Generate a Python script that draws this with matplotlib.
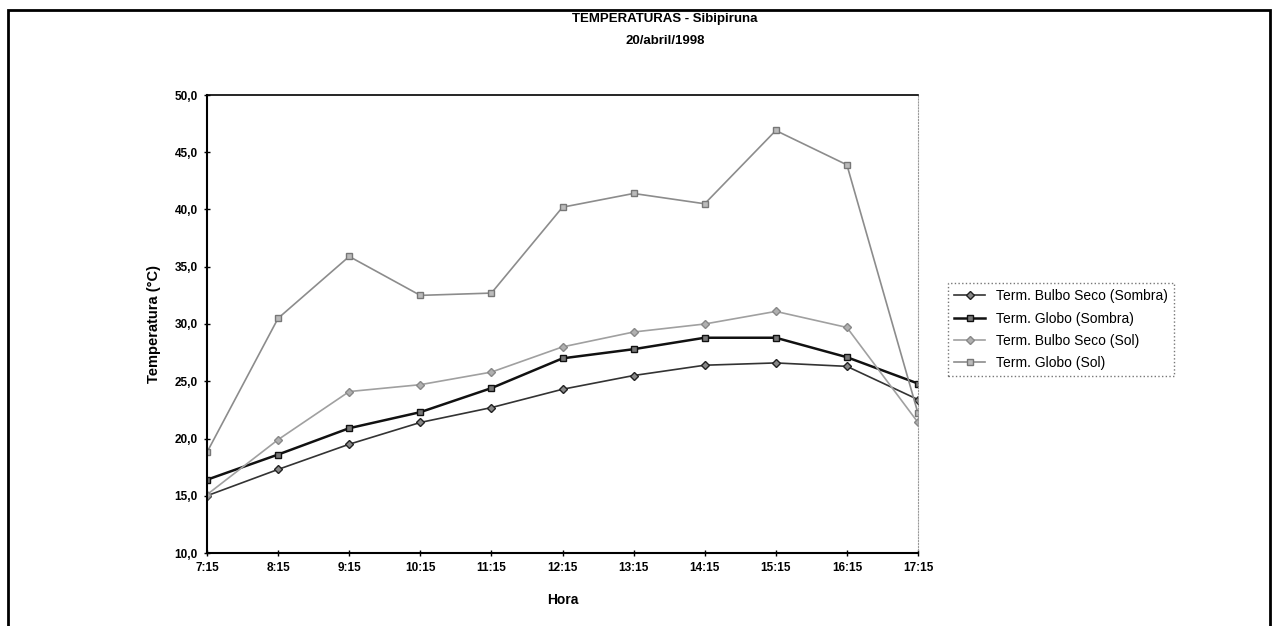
import matplotlib.pyplot as plt
from matplotlib.patches import Rectangle

plt.rcParams['font.family'] = ['Liberation Sans', 'DejaVu Sans']

# données
horas = ['7:15', '8:15', '9:15', '10:15', '11:15', '12:15',
         '13:15', '14:15', '15:15', '16:15', '17:15']
bulbo_sombra = [15.0, 17.3, 19.5, 21.4, 22.7, 24.3, 25.5, 26.4, 26.6, 26.3, 23.4]
globo_sombra = [16.4, 18.6, 20.9, 22.3, 24.4, 27.0, 27.8, 28.8, 28.8, 27.1, 24.8]
bulbo_sol = [15.1, 19.9, 24.1, 24.7, 25.8, 28.0, 29.3, 30.0, 31.1, 29.7, 21.4]
globo_sol = [18.8, 30.5, 35.9, 32.5, 32.7, 40.2, 41.4, 40.5, 46.9, 43.9, 22.2]

W, H = 1273, 626
fig = plt.figure(figsize=(W / 100, H / 100), dpi=100)
ax = fig.add_axes([207 / W, 1 - 553 / H, (918 - 207) / W, (553 - 95) / H])

x = range(len(horas))
ax.plot(x, bulbo_sombra, color='#333333', lw=1.2, marker='D', ms=4,
        mfc='#888888', mec='#222222', label='Term. Bulbo Seco (Sombra)')
ax.plot(x, globo_sombra, color='#111111', lw=1.8, marker='s', ms=5,
        mfc='#777777', mec='#111111', label='Term. Globo (Sombra)')
ax.plot(x, bulbo_sol, color='#a0a0a0', lw=1.2, marker='D', ms=4,
        mfc='#b0b0b0', mec='#888888', label='Term. Bulbo Seco (Sol)')
ax.plot(x, globo_sol, color='#8c8c8c', lw=1.2, marker='s', ms=5,
        mfc='#bbbbbb', mec='#777777', label='Term. Globo (Sol)')

ax.set_xlim(0, len(horas) - 1)
ax.set_ylim(10, 50)
ax.set_xticks(list(x))
ax.set_xticklabels(horas)
ax.set_yticks(range(10, 51, 5))
ax.set_yticklabels([f'{v},0' for v in range(10, 51, 5)])
ax.tick_params(labelsize=8.5, direction='inout', length=5, width=1, pad=4)
for lab in ax.get_xticklabels() + ax.get_yticklabels():
    lab.set_fontweight('bold')

ax.spines['left'].set_linewidth(1.5)
ax.spines['bottom'].set_linewidth(1.5)
ax.spines['top'].set_linewidth(1.2)
ax.spines['right'].set_color('#999999')
ax.spines['right'].set_linestyle(':')

ax.set_xlabel('Hora', fontsize=10, fontweight='bold', labelpad=14)
ax.set_ylabel('Temperatura (°C)', fontsize=10.5, fontweight='bold', labelpad=10)

fig.text(665 / W, 1 - 19 / H, 'TEMPERATURAS - Sibipiruna', ha='center', va='center',
         fontsize=9.5, fontweight='bold')
fig.text(665 / W, 1 - 41 / H, '20/abril/1998', ha='center', va='center',
         fontsize=9.5, fontweight='bold')

leg = fig.legend(loc='upper left', bbox_to_anchor=(948 / W, 1 - 283 / H),
                 borderaxespad=0, fontsize=10, frameon=True, fancybox=False,
                 borderpad=0.45, handlelength=2.2, labelspacing=0.6)
leg.get_frame().set_edgecolor('#555555')
leg.get_frame().set_linestyle(':')
leg.get_frame().set_linewidth(1)

# cadre de la page
fig.patches.append(Rectangle((8 / W, -0.01), (1270 - 8) / W, 1 - 10 / H + 0.01,
                             transform=fig.transFigure, fill=False, ec='black', lw=2))

fig.savefig('out.png', dpi=100)
